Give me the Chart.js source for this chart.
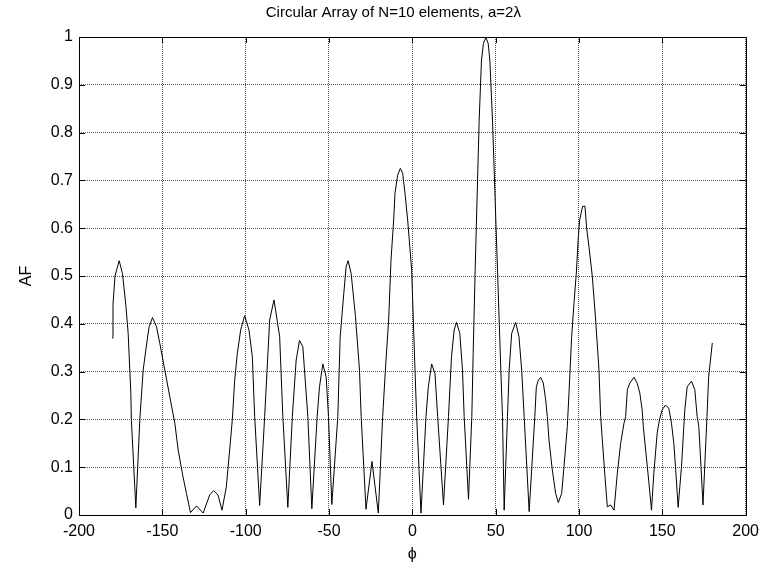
<!DOCTYPE html>
<html lang="en">
<head>
    <meta charset="UTF-8">
    <title>Circular Array of N=10 elements</title>
    <script src="https://cdn.jsdelivr.net/npm/chart.js"></script>
    <style>
        body {
            margin: 0;
            background: #fff;
        }
        #wrap {
            width: 766px;
            height: 569px;
        }
    </style>
</head>
<body>
    <div id="wrap">
        <canvas id="chart" width="766" height="569"></canvas>
    </div>

    <script>
        // angle phi (degrees)
        var phi = [
            -180, -179.6, -178.4, -175.9, -173.9, -171.9, -170.5, -168.9, -168.6, -165.9,
            -163.5, -161.5, -159.1, -157.9, -155.9, -153.5, -151.5, -148.5, -145.5, -142.5,
            -140.5, -137.6, -135.5, -133.1, -129.5, -125.5, -121.6, -119.2, -116.6, -114.2,
            -111.6, -109.6, -108, -106.6, -105, -103, -100.6, -98, -96, -94.6,
            -91.6, -88.6, -85.6, -83, -79.6, -77.7, -74.7, -72, -69.7, -67.7,
            -65.7, -62.7, -60.3, -57.1, -55.7, -53.7, -51.7, -50.3, -48.3, -44.7,
            -43.3, -41.1, -39.7, -38.5, -36.7, -34.1, -31.7, -30.7, -27.8, -24.2,
            -20.4, -17.8, -15.8, -14.2, -12.8, -11.2, -10.4, -8.8, -7.2, -5.8,
            -4.4, -2.8, -0.4, 0.6, 1.6, 2.6, 5.2, 8.2, 9.6, 11.6,
            13.6, 15.2, 18.7, 21.7, 23.5, 25.1, 26.5, 28.5, 30.1, 31.1,
            33.7, 35.7, 36.5, 37.7, 38.5, 40.1, 41.5, 42.7, 44.1, 45.5,
            46.5, 48.1, 49.1, 50.1, 51.1, 52.1, 53.1, 54.1, 55.1, 57.1,
            58.1, 59.6, 62, 64, 65.6, 67.1, 70.1, 73.5, 74.4, 75.6,
            77, 78.6, 80, 81, 82, 84, 86, 87.6, 89.6, 91,
            93, 94, 95.6, 97, 98.4, 99.6, 100.4, 102.2, 103.6, 104.6,
            106, 108, 110, 112, 113, 114, 115.6, 117, 119, 121,
            123, 125, 127, 128, 129, 130.5, 133, 134.9, 136.5, 137.9,
            138.6, 140, 142, 143.5, 144.9, 146.9, 148.3, 149.9, 151.9, 153.9,
            155.5, 156.9, 157.9, 159.5, 161.5, 162.9, 163.5, 164.9, 167.5, 169.5,
            170.9, 171.9, 173.2, 174.4, 176.8, 177.8, 180
        ];

        // array factor AF at each phi
        var af = [
            0.37, 0.44, 0.50, 0.532, 0.505, 0.439, 0.38, 0.255, 0.2, 0.015,
            0.2, 0.303, 0.366, 0.394, 0.413, 0.394, 0.359, 0.303, 0.247, 0.192,
            0.136, 0.08, 0.045, 0.005, 0.019, 0.004, 0.042, 0.051, 0.042, 0.01,
            0.059, 0.136, 0.2, 0.282, 0.338, 0.387, 0.417, 0.387, 0.331, 0.206,
            0.02, 0.206, 0.408, 0.45, 0.373, 0.206, 0.016, 0.206, 0.324, 0.365,
            0.352, 0.206, 0.013, 0.206, 0.268, 0.316, 0.289, 0.206, 0.022, 0.206,
            0.373, 0.464, 0.52, 0.532, 0.505, 0.415, 0.303, 0.206, 0.012, 0.112,
            0.004, 0.206, 0.324, 0.408, 0.533, 0.617, 0.673, 0.711, 0.725, 0.715,
            0.673, 0.617, 0.513, 0.408, 0.303, 0.206, 0.004, 0.206, 0.268, 0.316,
            0.296, 0.206, 0.021, 0.206, 0.331, 0.387, 0.403, 0.38, 0.303, 0.206,
            0.033, 0.206, 0.338, 0.513, 0.617, 0.826, 0.952, 0.987, 0.999, 0.987,
            0.952, 0.826, 0.722, 0.617, 0.513, 0.408, 0.303, 0.206, 0.01, 0.206,
            0.303, 0.38, 0.403, 0.373, 0.303, 0.206, 0.007, 0.206, 0.268, 0.282,
            0.288, 0.276, 0.241, 0.206, 0.157, 0.094, 0.045, 0.026, 0.045, 0.101,
            0.185, 0.255, 0.373, 0.443, 0.506, 0.582, 0.617, 0.646, 0.646, 0.6,
            0.561, 0.499, 0.408, 0.303, 0.206, 0.157, 0.08, 0.017, 0.021, 0.01,
            0.087, 0.15, 0.192, 0.206, 0.262, 0.276, 0.288, 0.276, 0.255, 0.22,
            0.185, 0.136, 0.066, 0.01, 0.087, 0.171, 0.199, 0.22, 0.23, 0.223,
            0.192, 0.15, 0.101, 0.016, 0.101, 0.185, 0.22, 0.268, 0.28, 0.262,
            0.206, 0.185, 0.101, 0.021, 0.206, 0.289, 0.36
        ];

        var xTicks = [-200, -150, -100, -50, 0, 50, 100, 150, 200];
        var yTicks = [0, 0.1, 0.2, 0.3, 0.4, 0.5, 0.6, 0.7, 0.8, 0.9, 1];
        var titleText = 'Circular Array of N=10 elements, a=2λ';

        var points = phi.map(function (p, i) { return { x: p, y: af[i] }; });

        var fontFamily = 'Arial, "Liberation Sans", Helvetica, sans-serif';

        // box around the axes, inward tick marks and a title centred on the axes
        var boxPlugin = {
            id: 'box',
            beforeDatasetsDraw: function (chart) {
                var ctx = chart.ctx;
                var a = chart.chartArea;
                var xs = chart.scales.x;
                var ys = chart.scales.y;
                var len = 6;
                ctx.save();
                ctx.strokeStyle = '#000';
                ctx.lineWidth = 1;
                ctx.beginPath();
                xTicks.forEach(function (t) {
                    var px = Math.round(xs.getPixelForValue(t)) + 0.5;
                    ctx.moveTo(px, a.bottom); ctx.lineTo(px, a.bottom - len);
                    ctx.moveTo(px, a.top); ctx.lineTo(px, a.top + len);
                });
                yTicks.forEach(function (t) {
                    var py = Math.round(ys.getPixelForValue(t)) + 0.5;
                    ctx.moveTo(a.left, py); ctx.lineTo(a.left + len, py);
                    ctx.moveTo(a.right, py); ctx.lineTo(a.right - len, py);
                });
                ctx.stroke();
                ctx.strokeRect(Math.round(a.left) + 0.5, Math.round(a.top) + 0.5,
                    Math.round(a.right - a.left), Math.round(a.bottom - a.top));

                ctx.fillStyle = '#000';
                ctx.font = '15px ' + fontFamily;
                ctx.textAlign = 'center';
                ctx.textBaseline = 'middle';
                ctx.fillText(titleText, (a.left + a.right) / 2 - 19, 13);
                ctx.restore();
            }
        };

        new Chart(document.getElementById('chart'), {
            type: 'line',
            data: {
                datasets: [{
                    data: points,
                    borderColor: '#000',
                    borderWidth: 1,
                    pointRadius: 0,
                    tension: 0,
                    fill: false
                }]
            },
            options: {
                responsive: false,
                animation: false,
                devicePixelRatio: 1,
                layout: {
                    padding: { left: 0, right: 19, top: 37, bottom: 0 }
                },
                plugins: {
                    legend: { display: false },
                    tooltip: { enabled: false },
                    title: { display: false }
                },
                scales: {
                    x: {
                        type: 'linear',
                        min: -200,
                        max: 200,
                        afterFit: function (s) { s.height = 54; },
                        afterBuildTicks: function (s) {
                            s.ticks = xTicks.map(function (v) { return { value: v }; });
                        },
                        ticks: {
                            color: '#000',
                            padding: 7,
                            maxRotation: 0,
                            font: { family: fontFamily, size: 16 }
                        },
                        grid: {
                            color: '#555',
                            drawTicks: false
                        },
                        border: { display: false, dash: [1, 1] },
                        title: {
                            display: true,
                            text: 'ϕ',
                            color: '#000',
                            font: { family: fontFamily, size: 16 },
                            padding: { top: 0, bottom: 5 }
                        }
                    },
                    y: {
                        min: 0,
                        max: 1,
                        afterFit: function (s) { s.width = 79; },
                        afterBuildTicks: function (s) {
                            s.ticks = yTicks.map(function (v) { return { value: v }; });
                        },
                        ticks: {
                            color: '#000',
                            padding: 6,
                            font: { family: fontFamily, size: 16 },
                            callback: function (v) { return String(Math.round(v * 10) / 10); }
                        },
                        grid: {
                            color: '#555',
                            drawTicks: false
                        },
                        border: { display: false, dash: [1, 1] },
                        title: {
                            display: true,
                            text: 'AF',
                            color: '#000',
                            font: { family: fontFamily, size: 16 },
                            padding: { top: 17, bottom: 0 }
                        }
                    }
                }
            },
            plugins: [boxPlugin]
        });
    </script>
</body>
</html>
